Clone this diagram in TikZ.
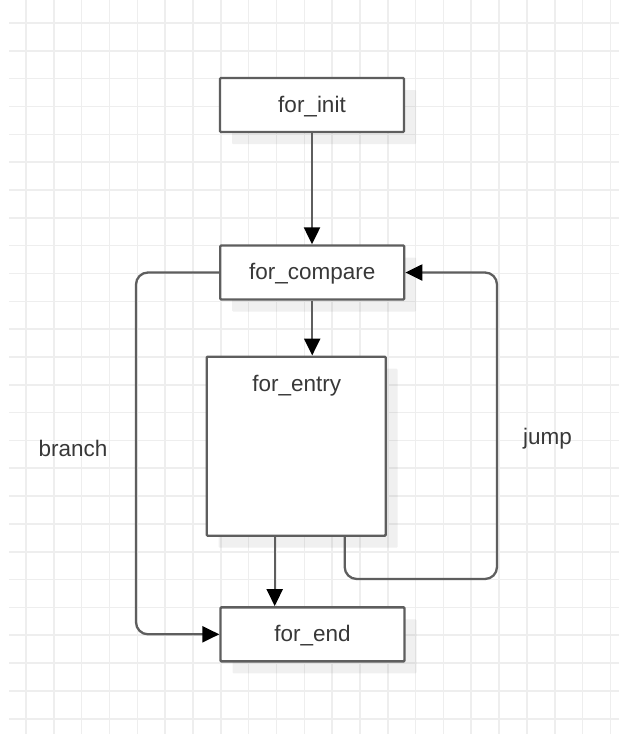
\documentclass[tikz,border=0pt]{standalone}
\usepackage{fontspec}
\setmainfont{Liberation Sans}
\usetikzlibrary{arrows.meta,shadows,calc}
\definecolor{gridc}{HTML}{EEEEEE}
\definecolor{linec}{HTML}{5E5E5E}
\definecolor{txtc}{HTML}{383838}
\begin{document}
\begin{tikzpicture}[x=1pt,y=-1pt, font=\fontsize{22.5}{27}\selectfont,
  box/.style={draw=linec, line width=2.4pt, fill=white, rounded corners=1pt,
    minimum width=184pt, minimum height=54pt, text height=14pt, text depth=0pt,
    inner sep=0pt, text=txtc,
    drop shadow={shadow xshift=12pt, shadow yshift=-12pt, fill=black, opacity=0.06}},
  conn/.style={draw=linec, line width=2.3pt},
  arr/.style={conn, -{Triangle[length=17pt,width=16pt,fill=black,color=black]}},
  lbl/.style={text=txtc, inner sep=0pt}]
\useasboundingbox (0,0) rectangle (619,734);
\fill[white] (0,0) rectangle (619,734);
\foreach \i in {0,...,21} \draw[gridc, line width=1.6pt] ({26+27.83*\i},0) -- ({26+27.83*\i},734);
\foreach \j in {0,...,25} \draw[gridc, line width=1.6pt] (9,{23+27.83*\j}) -- (619,{23+27.83*\j});

\node[box] (init) at (312,105) {for\_init};
\node[box] (cmp) at (312.2,272.5) {for\_compare};
\node[box, minimum width=179pt, minimum height=179pt] (entry) at (296.2,446.2) {};
\node[lbl, anchor=base] (entrytxt) at (296.7,391.7) {for\_entry};
\node[box] (end) at (312.5,634.3) {for\_end};

\draw[arr] (init.south) -- (init.south |- cmp.north);
\draw[arr] (cmp.south) -- (cmp.south |- entry.north);
\draw[arr] ([xshift=-21.5pt]entry.south) -- ([xshift=-21.5pt]entry.south |- end.north);
\draw[arr, rounded corners=12pt] (cmp.west) -- ++(-83,0) |- (end.west);
\coordinate (jr) at (497,579);
\draw[arr, rounded corners=12pt] ([xshift=48.5pt]entry.south) |- (jr) |- (cmp.east);

\node[lbl, anchor=base] (branch) at (73,456) {branch};
\node[lbl, anchor=base] (jump) at (547.5,444) {jump};
\end{tikzpicture}
\end{document}
